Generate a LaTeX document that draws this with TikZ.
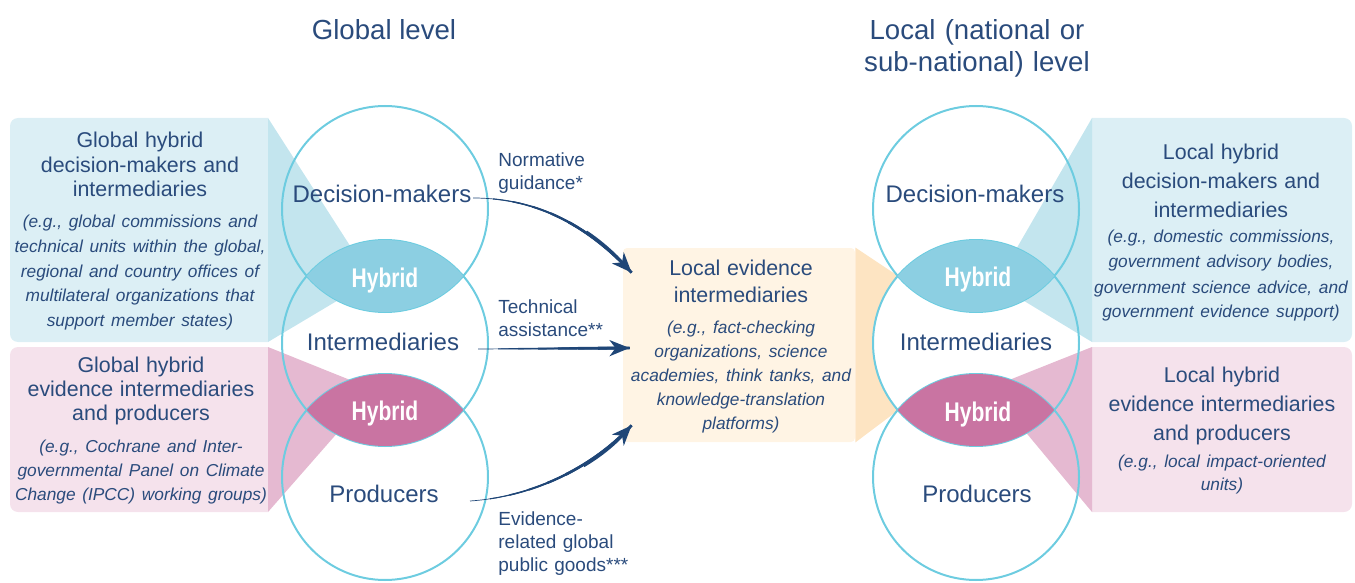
\documentclass[tikz,border=0pt]{standalone}
\usepackage{fontspec}
\setmainfont{Liberation Sans}
\newfontfamily\condsans{Liberation Sans}[FakeStretch=0.78]
\usetikzlibrary{arrows.meta,calc}

\definecolor{navy}{HTML}{2A4B7C}
\definecolor{ringblue}{HTML}{6DCCE0}
\definecolor{bluebox}{HTML}{DCEFF5}
\definecolor{bluewedge}{HTML}{C3E5EE}
\definecolor{bluelens}{HTML}{8CCFE2}
\definecolor{pinkbox}{HTML}{F5E2EC}
\definecolor{pinkwedge}{HTML}{E5B9D1}
\definecolor{pinklens}{HTML}{C974A2}
\definecolor{orangebox}{HTML}{FFF4E4}
\definecolor{orangewedge}{HTML}{FDE4C2}
\definecolor{flow}{HTML}{1F4677}

\newcommand{\fsz}[2]{\fontsize{#1}{#2}\selectfont}
\newcommand{\hdfont}[1]{\fontsize{10.7}{#1}\selectfont}
\newcommand{\ntfont}[1]{\fontsize{8.65}{#1}\selectfont\itshape}

% a flow arrow that thickens towards its head
\newcommand{\taper}[1]{%
  \foreach \w/\o in {0.35/0, 0.55/10, 0.75/20, 0.95/30, 1.15/40, 1.35/50}
    \draw[flowline, line width=\w pt, dash pattern=on 500pt off \o pt, dash phase=500pt] #1;
  \draw[flowline, line width=1.55pt, dash pattern=on 500pt off 60pt, dash phase=500pt,
        -{Stealth[length=10pt,width=8pt,inset=3pt]}] #1;}

\begin{document}
\begin{tikzpicture}[x=0.5pt, y=-0.5pt,
  role/.style={text=navy, font=\fsz{12}{14}},
  hyb/.style={text=white, font=\condsans\bfseries\fsz{13.5}{15}, anchor=base},
  title/.style={text=navy, font=\fsz{13.8}{16}, anchor=base, align=center},
  blurb/.style={text=navy, align=center, text width=150pt, anchor=base, inner sep=0pt},
  lbl/.style={text=navy, font=\fsz{9.5}{11.5}, align=left, text width=90pt, anchor=base west, inner sep=0pt},
  ring/.style={draw=ringblue, line width=1pt},
  flowline/.style={draw=flow}]
\useasboundingbox (0,0) rectangle (1355,583);

% circle centres
\coordinate (gA) at (385,209);
\coordinate (gB) at (385,343);
\coordinate (gC) at (385,477);
\coordinate (lA) at (976,209);
\coordinate (lB) at (976,343);
\coordinate (lC) at (976,477);

% side boxes with their wedges
\fill[bluebox] (268,118) {[rounded corners=4pt] -- (10,118) -- (10,342)} -- (268,342) -- cycle;
\fill[pinkbox] (268,347) {[rounded corners=4pt] -- (10,347) -- (10,512)} -- (268,512) -- cycle;
\fill[bluebox] (1092,118) {[rounded corners=4pt] -- (1352,118) -- (1352,342)} -- (1092,342) -- cycle;
\fill[pinkbox] (1092,347) {[rounded corners=4pt] -- (1352,347) -- (1352,512)} -- (1092,512) -- cycle;
\fill[bluewedge] (268,118) -- (372,280) -- (268,342) -- cycle;
\fill[pinkwedge] (268,347) -- (375,390) -- (268,512) -- cycle;
\fill[bluewedge] (1092,118) -- (996,284) -- (1092,342) -- cycle;
\fill[pinkwedge] (1092,347) -- (989,388) -- (1092,512) -- cycle;

% local intermediaries box
\node[fill=orangebox, rounded corners=2pt, minimum width=116pt, minimum height=97pt, inner sep=0pt] (loc) at (739,345) {};
\fill[orangewedge] (loc.north east) -- (898,276) arc[start angle=220.7, end angle=139.3, radius=103] -- (loc.south east) -- cycle;

% the three levels on each side
\foreach \c in {gA,gB,gC,lA,lB,lC}
  \draw[ring] (\c) circle[radius=103];

% overlaps
\begin{scope}
  \clip (gA) circle[radius=103];
  \fill[bluelens] (gB) circle[radius=103];
\end{scope}
\begin{scope}
  \clip (gB) circle[radius=103];
  \fill[pinklens] (gC) circle[radius=103];
\end{scope}
\begin{scope}
  \clip (lA) circle[radius=103];
  \fill[bluelens] (lB) circle[radius=103];
\end{scope}
\begin{scope}
  \clip (lB) circle[radius=103];
  \fill[pinklens] (lC) circle[radius=103];
\end{scope}

% headings
\node[title] (globT) at (384,40) {Global level};
\node[title, text width=150pt] (locT) at (977,40) {Local (national or\\sub-national) level};

% circle labels
\node[role] (dmL) at (382,194) {Decision-makers};
\node[role] (imL) at (383,342) {Intermediaries};
\node[role] (prL) at (384,494) {Producers};
\node[role] (dmR) at (975,194) {Decision-makers};
\node[role] (imR) at (976,342) {Intermediaries};
\node[role] (prR) at (977,494) {Producers};
\node[hyb] (hyGA) at (385,287) {Hybrid};
\node[hyb] (hyGB) at (385,420) {Hybrid};
\node[hyb] (hyLA) at (978,286) {Hybrid};
\node[hyb] (hyLB) at (978,421) {Hybrid};

% box texts
\node[blurb] (gDM) at (140,148) {{\hdfont{12.25}Global hybrid\\decision-makers and\\intermediaries\par}\vspace{3.2pt}
  {\ntfont{12.3}(e.g., global commissions and\\technical units within the global,\\regional and country offices of\\multilateral organizations that\\support member states)\par}};
\node[blurb] (gEP) at (141,372) {{\hdfont{12.2}Global hybrid\\evidence intermediaries\\and producers\par}\vspace{4pt}
  {\ntfont{12}(e.g., Cochrane and Inter-\\governmental Panel on Climate\\Change (IPCC) working groups)\par}};
\node[blurb] (lDM) at (1221,160) {{\hdfont{14.25}Local hybrid\\decision-makers and\\intermediaries\par}\vspace{0.5pt}
  {\ntfont{12.5}(e.g., domestic commissions,\\government advisory bodies,\\government science advice, and\\government evidence support)\par}};
\node[blurb] (lEP) at (1222,382) {{\hdfont{14.5}Local hybrid\\evidence intermediaries\\and producers\par}\vspace{1.8pt}
  {\ntfont{11.7}(e.g., local impact-oriented\\units)\par}};
\node[blurb] (locX) at (741,275) {{\hdfont{13.5}Local evidence\\intermediaries\par}\vspace{3.4pt}
  {\ntfont{12.1}(e.g., fact-checking\\organizations, science\\academies, think tanks, and\\knowledge-translation\\platforms)\par}};

% flows from the global to the local level
\node[lbl] (ngT) at (498,167) {Normative\\guidance*};
\node[lbl] (taT) at (498,313) {Technical\\assistance**};
\node[lbl] (pgT) at (498,525) {Evidence-\\related global\\public goods***};
\coordinate (ngS) at (473,198);
\coordinate (taS) at (478,349);
\coordinate (pgS) at (470,501);
\taper{(ngS) .. controls (540,198) and (590,228) .. ($(loc.north west)+(9,25)$)}
\taper{(taS) -- ($(loc.west)+(7,3)$)}
\taper{(pgS) .. controls (530,497) and (590,470) .. ($(loc.south west)+(9,-17)$)}
\end{tikzpicture}
\end{document}
